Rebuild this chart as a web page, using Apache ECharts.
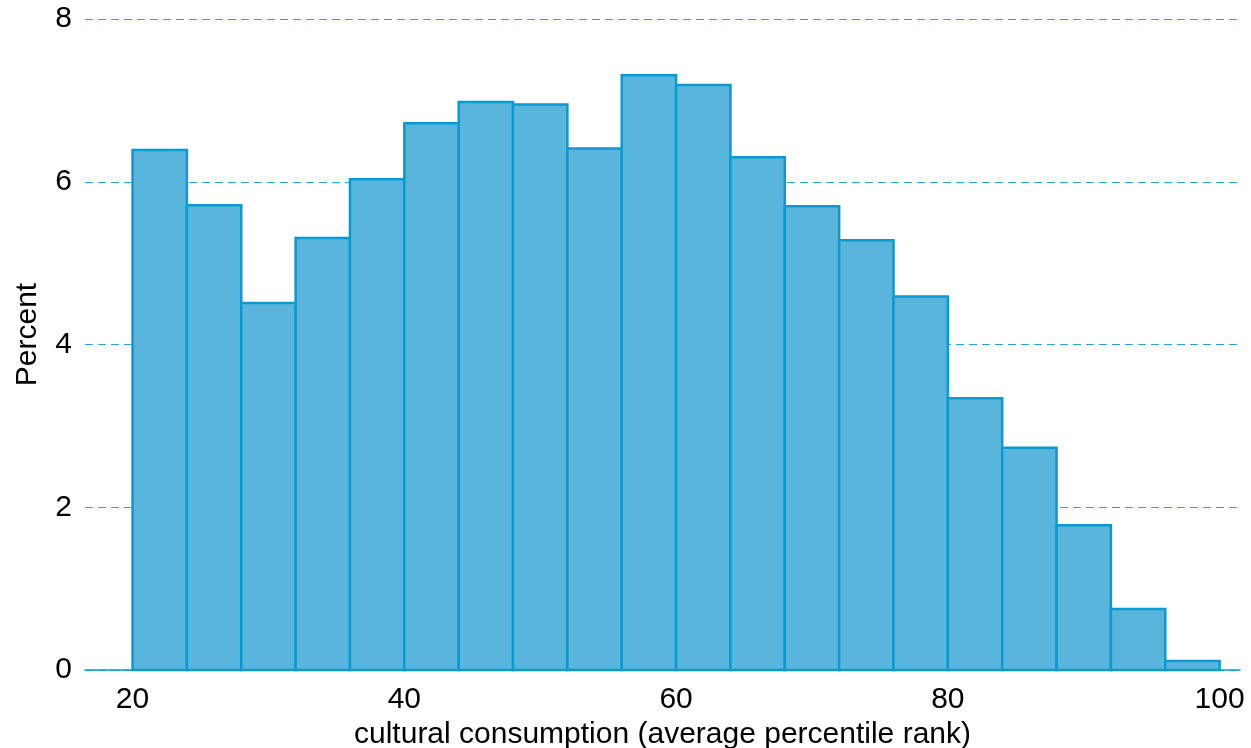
<!DOCTYPE html>
<html>
<head>
<meta charset="utf-8">
<script src="https://cdn.jsdelivr.net/npm/echarts@6/dist/echarts.min.js"></script>
<style>
html,body{margin:0;padding:0;background:#fff;}
#chart{width:1251px;height:748px;}
</style>
</head>
<body>
<div id="chart"></div>
<script>
var binStarts = [20,24,28,32,36,40,44,48,52,56,60,64,68,72,76,80,84,88,92,96];
var binWidth = 4;
var percents = [6.39,5.71,4.51,5.31,6.03,6.72,6.98,6.95,6.41,7.31,7.19,6.30,5.70,5.28,4.59,3.34,2.73,1.78,0.75,0.11];
var xTicks = [20,40,60,80,100];
var yTicks = [0,2,4,6,8];
var xTitle = 'cultural consumption (average percentile rank)';
var yTitle = 'Percent';

var data = binStarts.map(function(s,i){ return [s, s+binWidth, percents[i]]; });

var chart = echarts.init(document.getElementById('chart'), null, {renderer:'canvas'});
chart.setOption({
  animation:false,
  backgroundColor:'#ffffff',
  grid:{left:85,right:11,top:19,bottom:78,containLabel:false,outerBoundsMode:'none'},
  xAxis:{
    type:'value', min:16.5, max:101.5,
    axisLine:{show:true,onZero:false,lineStyle:{color:'#0a9ad0',width:1.5}},
    axisTick:{show:false},
    splitLine:{show:false},
    axisLabel:{show:true,customValues:xTicks,color:'#000',fontSize:30,fontFamily:'Liberation Sans, Arial',margin:15},
    name:xTitle, nameLocation:'middle', nameGap:42,
    nameTextStyle:{color:'#000',fontSize:30,fontFamily:'Liberation Sans, Arial'}
  },
  yAxis:{
    type:'value', min:0, max:8, interval:2,
    axisLine:{show:false},
    axisTick:{show:false},
    splitLine:{show:true,lineStyle:{color:'#2aa3d6',type:[8,5],width:1.2}},
    axisLabel:{color:'#000',fontSize:30,fontFamily:'Liberation Sans, Arial',margin:13,
      customValues:yTicks},
    name:yTitle, nameLocation:'middle', nameGap:42,
    nameTextStyle:{color:'#000',fontSize:30,fontFamily:'Liberation Sans, Arial',padding:[0,0,0,20]}
  },
  series:[{
    type:'custom',
    data:data,
    encode:{x:[0,1],y:2},
    renderItem:function(params, api){
      var p0 = api.coord([api.value(0), api.value(2)]);
      var p1 = api.coord([api.value(1), 0]);
      return {
        type:'rect',
        shape:{x:p0[0], y:p0[1], width:p1[0]-p0[0], height:p1[1]-p0[1]},
        style:{fill:'#5ab5dc', stroke:'#0a9ad0', lineWidth:2.5}
      };
    }
  }]
});
</script>
</body>
</html>
